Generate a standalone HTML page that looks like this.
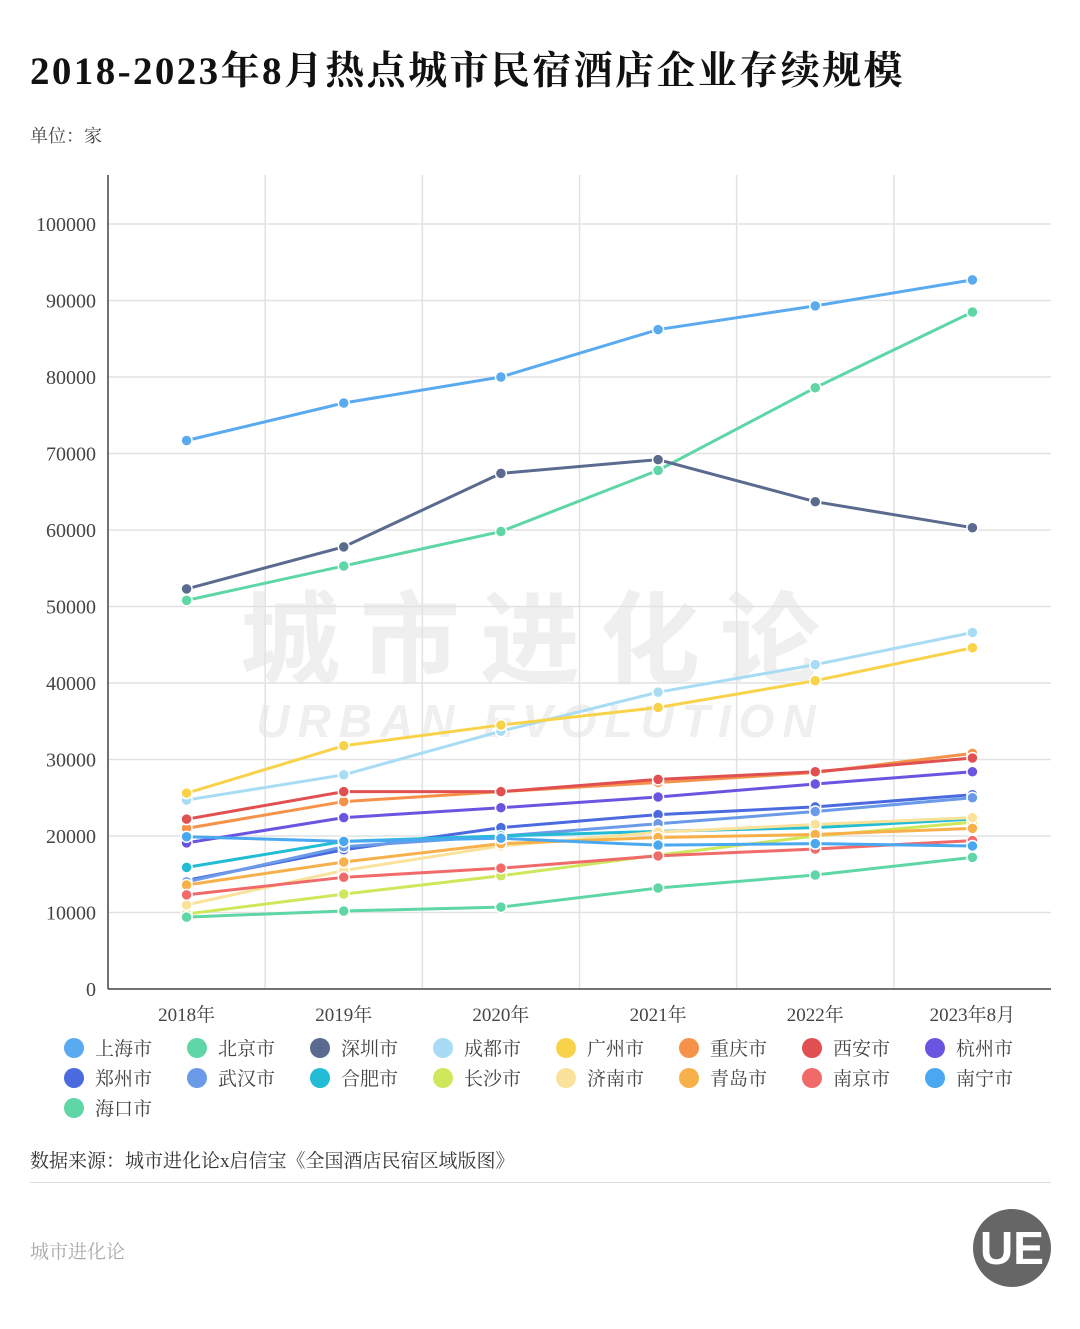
<!DOCTYPE html>
<html><head><meta charset="utf-8">
<style>
body{margin:0;width:1080px;height:1329px;background:#fff;font-family:"Liberation Serif","Noto Serif CJK SC",serif;overflow:hidden;position:relative}
.t{position:absolute;white-space:nowrap}
</style></head><body>
<div class="t" style="left:30px;top:40px;font-size:39px;letter-spacing:2.4px;font-weight:bold;color:#111">2018-2023年8月热点城市民宿酒店企业存续规模</div>
<div class="t" style="left:30px;top:122px;font-size:18px;color:#444">单位：家</div>
<svg id="chart" width="1080" height="1140" style="position:absolute;left:0;top:0">
<g>
<text x="540" y="675" text-anchor="middle" font-size="100" font-weight="bold" fill="#efefef" font-family="Noto Sans CJK SC, sans-serif" letter-spacing="20">城市进化论</text>
<text x="540" y="737" text-anchor="middle" font-size="46" font-weight="bold" font-style="italic" fill="#efefef" font-family="Liberation Sans, sans-serif" letter-spacing="8">URBAN EVOLUTION</text>
</g>
</svg>
<div class="t" style="left:30px;top:1146px;font-size:19px;color:#333">数据来源：城市进化论x启信宝《全国酒店民宿区域版图》</div>
<div style="position:absolute;left:30px;top:1182px;width:1021px;height:1px;background:#ddd"></div>
<div class="t" style="left:30px;top:1237px;font-size:19px;color:#aaa">城市进化论</div>
<div style="position:absolute;left:973px;top:1209px;width:78px;height:78px;border-radius:50%;background:#666;color:#fff;font:bold 46px 'Liberation Sans',sans-serif;text-align:center;line-height:78px">UE</div>
<script>
const categories=["2018年","2019年","2020年","2021年","2022年","2023年8月"];
const yTicks=[0,10000,20000,30000,40000,50000,60000,70000,80000,90000,100000];
const names=["上海市","北京市","深圳市","成都市","广州市","重庆市","西安市","杭州市","郑州市","武汉市","合肥市","长沙市","济南市","青岛市","南京市","南宁市","海口市"];
const colors=["#5aaaf0","#5ed6a6","#5a6b8f","#a8dcf5","#f8d34a","#f5924a","#e05050","#6a55e0","#4a6ae0","#6a9ae8","#22bcd4","#cde85a","#fae29a","#f8b04a","#f06a6a","#4aa8f0","#5ed6a6"];
const sShanghai=[71700,76600,80000,86200,89300,92700];
const sBeijing=[50800,55300,59800,67800,78600,88500];
const sShenzhen=[52300,57800,67400,69200,63700,60300];
const sChengdu=[24700,28000,33700,38800,42400,46600];
const sGuangzhou=[25600,31800,34500,36800,40300,44600];
const sChongqing=[21000,24500,25800,27000,28300,30800];
const sXian=[22200,25800,25800,27400,28400,30200];
const sHangzhou=[19100,22400,23700,25100,26800,28400];
const sZhengzhou=[14200,18200,21100,22800,23800,25400];
const sWuhan=[14000,18600,20000,21600,23200,25000];
const sHefei=[15900,19300,20000,20600,21100,22200];
const sChangsha=[9800,12400,14800,17500,20000,21800];
const sJinan=[11000,15500,18700,20500,21500,22400];
const sQingdao=[13600,16600,19000,19800,20200,21000];
const sNanjing=[12300,14600,15800,17400,18300,19400];
const sNanning=[19900,19300,19700,18800,19000,18700];
const sHaikou=[9400,10200,10700,13200,14900,17200];
const series=[sShanghai,sBeijing,sShenzhen,sChengdu,sGuangzhou,sChongqing,sXian,sHangzhou,sZhengzhou,sWuhan,sHefei,sChangsha,sJinan,sQingdao,sNanjing,sNanning,sHaikou];
const L=108,R=1051,T=175,B=989,yMax=100000,yTopPx=224;
const bw=(R-L)/categories.length;
const xs=i=>L+bw*(i+0.5);
const ys=v=>B-(B-yTopPx)*v/yMax;
const NS="http://www.w3.org/2000/svg";
const svg=document.getElementById('chart');
function mk(tag,attrs,parent){const e=document.createElementNS(NS,tag);for(const k in attrs)e.setAttribute(k,attrs[k]);(parent||svg).appendChild(e);return e;}
const grid=mk('g',{});


yTicks.forEach(v=>{if(v>0){const l=mk('line',{x1:L,x2:R,y1:ys(v),y2:ys(v),stroke:'#e2e2e2','stroke-width':1.5},grid);}
const t=mk('text',{x:96,y:ys(v)+7,'text-anchor':'end','font-size':20,fill:'#444'});t.textContent=v;

});
for(let i=1;i<categories.length;i++){const l=mk('line',{x1:L+bw*i,x2:L+bw*i,y1:T,y2:B,stroke:'#e2e2e2','stroke-width':1.5},grid);}
const ya=mk('line',{x1:L,x2:L,y1:T,y2:B,stroke:'#444','stroke-width':1.5});


const xa=mk('line',{x1:L,x2:R,y1:B,y2:B,stroke:'#444','stroke-width':1.5});


categories.forEach((c,i)=>{const t=mk('text',{x:xs(i),y:1021,'text-anchor':'middle','font-size':19,fill:'#444'});t.textContent=c;

});
series.forEach((s,k)=>{const g=mk('g',{});


const p=mk('polyline',{points:s.map((v,i)=>xs(i)+','+ys(v)).join(' '),fill:'none',stroke:colors[k],'stroke-width':3},g);


s.forEach((v,i)=>{const c=mk('circle',{cx:xs(i),cy:ys(v),r:5.5,fill:colors[k],stroke:'#fff','stroke-width':1.5},g);

});});
const lg=mk('g',{});


names.forEach((n,k)=>{const col=k%8,row=Math.floor(k/8);const x=74+col*123,y=1048+row*30;
const e=mk('g',{},lg);


mk('circle',{cx:x,cy:y,r:10,fill:colors[k]},e);
const t=mk('text',{x:x+21,y:y+7,'font-size':19,fill:'#444'},e);t.textContent=n;});
</script>
</body></html>
